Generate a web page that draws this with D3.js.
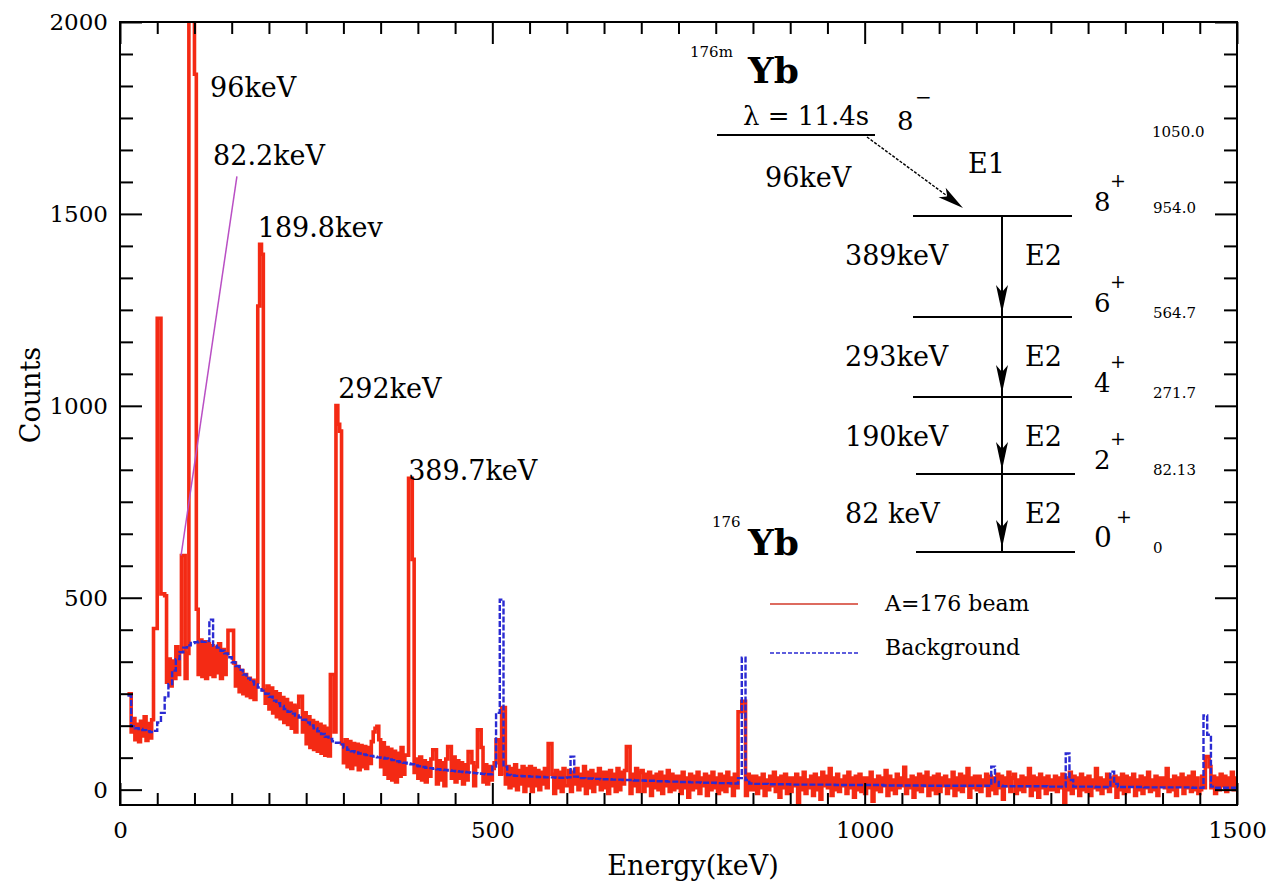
<!DOCTYPE html>
<html><head><meta charset="utf-8">
<script src="https://cdn.jsdelivr.net/npm/d3@7"></script>
<style>body{margin:0;background:#fff}svg{display:block}</style>
</head><body>
<svg id="chart" width="1272" height="884"></svg>
<script>
// ---------------- DATA ----------------
const beamBinKeV = 2.5;          // beam value i covers [2.5i, 2.5i+2.5) keV
const beamCounts = [
  null,null,null,null,250,250,150,185,130,170,125,178,140,190,128,172,135,182,420,420,
  1228,1228,510,510,505,280,340,270,335,290,372,300,360,610,610,290,355,2300,2300,2300,
  1864,470,300,390,295,385,290,380,300,375,295,370,305,380,290,365,300,355,415,415,
  415,330,270,320,255,310,250,300,245,290,240,285,235,280,1260,1421,1395,260,225,270,
  210,265,200,255,190,250,185,240,175,235,170,225,160,220,150,215,243,243,150,200,
  120,190,110,180,105,175,100,170,95,165,90,160,88,300,300,150,1001,952,934,120,
  70,130,60,125,55,120,65,118,52,115,60,112,55,110,68,125,150,160,165,130,
  60,122,40,110,30,105,25,100,20,95,35,110,40,90,90,811,811,600,45,80,
  30,85,25,75,20,70,35,80,104,104,15,75,25,70,10,80,112,112,30,85,
  20,75,30,70,15,65,25,99,99,70,10,60,156,156,110,20,65,15,60,25,
  55,70,130,130,40,214,214,15,60,5,55,10,65,0,50,15,60,-5,55,10,
  60,-5,55,10,50,0,45,15,55,5,120,120,40,-10,50,5,45,-5,55,10,
  10,50,-5,45,15,55,0,40,10,60,-10,45,5,50,-5,40,15,55,0,45,
  5,45,-10,50,10,40,-5,55,0,45,15,50,112,112,-10,40,10,55,-5,45,
  50,-5,40,10,45,-15,35,5,40,0,45,-10,35,10,50,-5,40,0,35,5,
  35,-10,45,5,30,-20,40,0,35,5,45,-10,30,10,40,-15,35,0,45,5,
  30,-10,40,0,35,-5,45,10,30,-15,40,5,203,203,230,230,-15,40,0,35,
  0,35,-10,30,5,40,-15,25,0,35,10,45,-5,30,-20,35,5,40,-10,30,
  -5,30,10,40,-35,30,0,45,-10,25,5,35,-15,40,0,30,-25,45,10,35,
  5,55,-15,30,0,40,-5,25,10,35,-10,45,5,30,-20,35,0,40,-5,30,
  -10,30,5,45,-30,25,0,35,-5,30,10,50,-15,35,0,25,-10,40,5,30,
  10,58,-10,25,5,35,-20,30,0,40,-5,35,10,45,-15,30,0,35,-10,40,
  -5,30,10,35,-10,25,5,45,-15,30,0,40,-5,35,10,55,-20,30,5,35,
  0,35,-5,25,10,40,-15,35,0,30,-10,40,5,35,-25,30,10,45,-5,30,
  40,-10,25,0,35,-5,30,10,55,-15,35,0,30,-20,40,5,30,-10,35,0,
  25,0,35,-5,30,5,40,-35,30,0,45,-10,35,5,30,-15,40,0,30,-5,
  35,-15,25,5,55,0,30,-10,25,5,40,-5,30,10,35,-20,30,0,40,-10,
  35,-5,30,10,40,-15,25,0,35,-10,30,5,45,-5,25,0,35,-15,30,10,
  30,5,55,-5,25,0,35,-15,30,10,40,-10,30,5,35,-5,45,0,30,-10,
  0,35,5,86,86,60,5,35,-10,30,0,40,10,35,-5,30,5,45,0,30
];
const backgroundBinKeV = 5;      // background value i covers [5i, 5i+5) keV
const backgroundCounts = [
  null, null, 245, 165, 160, 158, 155, 152, 150, 153,
  175, 200, 240, 275, 310, 340, 358, 370, 376, 382,
  384, 386, 385, 387, 443, 375, 370, 362, 355, 345,
  332, 322, 312, 300, 290, 282, 274, 266, 258, 250,
  242, 232, 225, 218, 210, 203, 198, 193, 188, 182,
  175, 167, 160, 152, 145, 138, 132, 126, 122, 118,
  110, 104, 100, 97, 94, 92, 90, 88, 86, 84,
  83, 81, 79, 77, 74, 72, 70, 68, 66, 63,
  61, 59, 57, 56, 54, 53, 52, 51, 50, 49,
  48, 47, 46, 45, 44, 43, 42, 41, 40, 40,
  60, 200, 495, 60, 38, 37, 36, 36, 35, 35,
  34, 34, 33, 33, 32, 32, 32, 31, 31, 31,
  32, 86, 34, 30, 30, 29, 29, 28, 28, 27,
  27, 27, 26, 26, 26, 25, 25, 25, 24, 24,
  24, 23, 23, 23, 22, 22, 22, 21, 21, 21,
  20, 20, 20, 19, 19, 19, 18, 18, 18, 18,
  17, 17, 17, 17, 16, 16, 30, 344, 25, 16,
  15, 15, 15, 15, 14, 14, 14, 14, 14, 14,
  13, 13, 13, 13, 13, 13, 13, 13, 13, 13,
  13, 13, 12, 12, 12, 12, 12, 12, 12, 12,
  12, 12, 12, 12, 12, 11, 11, 11, 11, 11,
  11, 11, 11, 11, 11, 11, 10, 10, 10, 10,
  10, 10, 10, 10, 10, 10, 10, 10, 10, 10,
  10, 10, 10, 10, 60, 20, 10, 9, 9, 9,
  9, 9, 9, 9, 9, 9, 9, 9, 9, 8,
  8, 8, 8, 8, 94, 25, 8, 8, 8, 8,
  8, 8, 7, 7, 7, 7, 47, 15, 7, 7,
  7, 7, 7, 7, 7, 6, 6, 6, 6, 6,
  6, 6, 6, 6, 6, 6, 6, 6, 5, 5,
  5, 193, 143, 8, 5, 5, 5, 5, 5, 5
];
const xTickLabels = [0, 500, 1000, 1500];
const yTickLabels = [0, 500, 1000, 1500, 2000];
const seriesNames = ["A=176 beam", "Background"];
const peakLabels = ["96keV", "82.2keV", "189.8kev", "292keV", "389.7keV"];
const peakLeaderFrom = [82, 610];     // 82 keV peak top (keV, counts)
const peakLeaderTo = [157, 1598];
const levelSpins = ["8", "6", "4", "2", "0"];
const levelEnergies = ["954.0", "564.7", "271.7", "82.13", "0"];
const gammaEnergies = ["389keV", "293keV", "190keV", "82 keV"];
const gammaTypes = ["E2", "E2", "E2", "E2"];
const isomer = {mass: "176m", element: "Yb", halfLife: "λ = 11.4s", spin: "8", parity: "−", energy: "1050.0", gamma: "96keV", type: "E1"};
const ground = {mass: "176", element: "Yb"};

// ---------------- LAYOUT ----------------
const L = 120, R = 1237, T = 22, B = 805;
const serif = "'DejaVu Serif', serif";
const svg = d3.select("#chart");
const x = d3.scaleLinear().domain([0, 1500]).range([L, R]);
const y = d3.scaleLinear().domain([-40, 2000]).range([B, T]);

svg.append("defs").append("clipPath").attr("id", "plotclip")
  .append("rect").attr("x", L).attr("y", T).attr("width", R - L).attr("height", B - T);

function pts(arr, bw) {
  const p = arr.map((v, i) => [i * bw, v]);
  p.push([arr.length * bw, arr[arr.length - 1]]);
  return p;
}
const line = d3.line().defined(d => d[1] != null)
  .x(d => x(d[0])).y(d => y(d[1])).curve(d3.curveStepAfter);
const plot = svg.append("g").attr("clip-path", "url(#plotclip)");
plot.append("path").attr("d", line(pts(beamCounts, beamBinKeV)))
  .attr("fill", "none").attr("stroke", "#f42a14").attr("stroke-width", 3.6)
  .attr("stroke-linejoin", "miter").attr("stroke-linecap", "butt");
plot.append("path").attr("d", line(pts(backgroundCounts, backgroundBinKeV)))
  .attr("fill", "none").attr("stroke", "#2a2ad2").attr("stroke-width", 2.4)
  .attr("stroke-dasharray", "6,2");
plot.append("line")
  .attr("x1", x(peakLeaderFrom[0])).attr("y1", y(peakLeaderFrom[1]))
  .attr("x2", x(peakLeaderTo[0])).attr("y2", y(peakLeaderTo[1]))
  .attr("stroke", "#b94fc4").attr("stroke-width", 1.5);

// axes / frame
const xMinor = d3.range(0, 1501, 50).filter(v => v % 500 !== 0);
const yMinor = d3.range(0, 2001, 500 / 6).filter(v => Math.abs(v % 500) > 1 && Math.abs(v % 500 - 500) > 1);
function styleAxis(g, fs) {
  g.select(".domain").remove();
  g.selectAll("line").attr("stroke", "#000").attr("stroke-width", 2);
  g.selectAll("text").attr("font-family", serif).attr("font-size", fs).attr("fill", "#000");
}
function addAxis(axis, tr, vals, size, labels, pad) {
  const a = axis.tickValues(vals).tickSizeInner(size).tickSizeOuter(0);
  if (labels) a.tickPadding(pad).tickFormat(d3.format("d")); else a.tickFormat("");
  svg.append("g").attr("transform", tr).call(a).call(g => styleAxis(g, 23));
}
addAxis(d3.axisBottom(x), `translate(0,${B})`, xTickLabels, -22, true, 17);
addAxis(d3.axisBottom(x), `translate(0,${B})`, xMinor, -12, false);
addAxis(d3.axisTop(x), `translate(0,${T})`, xTickLabels, -22, false);
addAxis(d3.axisTop(x), `translate(0,${T})`, xMinor, -12, false);
addAxis(d3.axisLeft(y), `translate(${L},0)`, yTickLabels, -22, true, 12);
addAxis(d3.axisLeft(y), `translate(${L},0)`, yMinor, -13, false);
addAxis(d3.axisRight(y), `translate(${R},0)`, yTickLabels, -22, false);
addAxis(d3.axisRight(y), `translate(${R},0)`, yMinor, -13, false);
svg.append("rect").attr("x", L).attr("y", T).attr("width", R - L).attr("height", B - T)
  .attr("fill", "none").attr("stroke", "#000").attr("stroke-width", 2);

svg.append("text").attr("x", 693).attr("y", 875).attr("text-anchor", "middle")
  .attr("font-family", serif).attr("font-size", 27).text("Energy(keV)");
svg.append("text").attr("transform", "translate(40,395) rotate(-90)").attr("text-anchor", "middle")
  .attr("font-family", serif).attr("font-size", 27).text("Counts");

// peak labels (anchored in data units: keV, counts)
const peakLabelAnchor = [[121, 1804], [125, 1627], [185, 1440], [293, 1020], [387, 807]];
svg.append("g").selectAll("text").data(peakLabels).join("text")
  .attr("x", (d, i) => x(peakLabelAnchor[i][0])).attr("y", (d, i) => y(peakLabelAnchor[i][1]))
  .attr("font-family", serif).attr("font-size", 27).text(d => d);

// ---------------- LEVEL SCHEME ----------------
const S = svg.append("g").attr("font-family", serif).attr("fill", "#000");
function txt(xx, yy, s, fs, extra) {
  const t = S.append("text").attr("x", xx).attr("y", yy).attr("font-size", fs).text(s);
  if (extra) extra(t);
  return t;
}
function hline(x1, x2, yy) {
  S.append("line").attr("x1", x1).attr("x2", x2).attr("y1", yy).attr("y2", yy)
    .attr("stroke", "#000").attr("stroke-width", 2);
}
function arrowHead(tx, ty, dx, dy, len, hw) {
  const n = Math.hypot(dx, dy), ux = dx / n, uy = dy / n, px = -uy, py = ux;
  const bx = tx - ux * len, by = ty - uy * len;
  const nx = tx - ux * len * 0.75, ny = ty - uy * len * 0.75;
  S.append("path").attr("d",
    `M${tx},${ty} L${bx + px * hw},${by + py * hw} L${nx},${ny} L${bx - px * hw},${by - py * hw} Z`)
    .attr("fill", "#000");
}
txt(690, 57, isomer.mass, 15);
txt(748, 83, isomer.element, 36, t => t.attr("font-weight", "bold"));
txt(743, 125, isomer.halfLife, 26);
txt(897, 130, isomer.spin, 26);
txt(915, 104, isomer.parity, 20);
hline(717, 875, 135);
txt(765, 187, isomer.gamma, 27);
txt(1152, 137, isomer.energy, 15);
S.append("line").attr("x1", 867).attr("y1", 137).attr("x2", 950).attr("y2", 198)
  .attr("stroke", "#000").attr("stroke-width", 1.4).attr("stroke-dasharray", "3,1.5");
arrowHead(963, 208, 96, 71, 26, 6);
txt(968, 173, isomer.type, 27);

const levelY = [216, 317, 397, 474, 552];
const levelX1 = [913, 913, 913, 916, 916], levelX2 = [1072, 1072, 1072, 1075, 1075];
levelY.forEach((ly, i) => {
  hline(levelX1[i], levelX2[i], ly);
  txt(1094, ly - 5, levelSpins[i], i === 4 ? 28 : 26);
  txt(i === 4 ? 1116 : 1110, ly - 29, "+", 19);
  txt(1153, ly + (i === 0 ? -3 : 1), levelEnergies[i], 15);
});
const arrowX = 1002;
gammaEnergies.forEach((g, i) => {
  const y1 = levelY[i], y2 = levelY[i + 1];
  S.append("line").attr("x1", arrowX).attr("x2", arrowX).attr("y1", y1).attr("y2", y2)
    .attr("stroke", "#000").attr("stroke-width", 2);
  arrowHead(arrowX, y2 - 4, 0, 1, 28, 6);
  const by = y1 + 49;
  txt(845, by, g, 27);
  txt(1025, by, gammaTypes[i], 27);
});
txt(712, 527, ground.mass, 15);
txt(748, 555, ground.element, 36, t => t.attr("font-weight", "bold"));

// ---------------- LEGEND ----------------
const Lg = svg.append("g").attr("font-family", serif).attr("font-size", 22);
Lg.append("line").attr("x1", 770).attr("x2", 858).attr("y1", 604).attr("y2", 604)
  .attr("stroke", "#d23a2a").attr("stroke-width", 1.6);
Lg.append("text").attr("x", 885).attr("y", 611).text(seriesNames[0]);
Lg.append("line").attr("x1", 770).attr("x2", 858).attr("y1", 653).attr("y2", 653)
  .attr("stroke", "#2a2ad2").attr("stroke-width", 1.6).attr("stroke-dasharray", "4,2");
Lg.append("text").attr("x", 885).attr("y", 655).text(seriesNames[1]);
</script>
</body></html>
